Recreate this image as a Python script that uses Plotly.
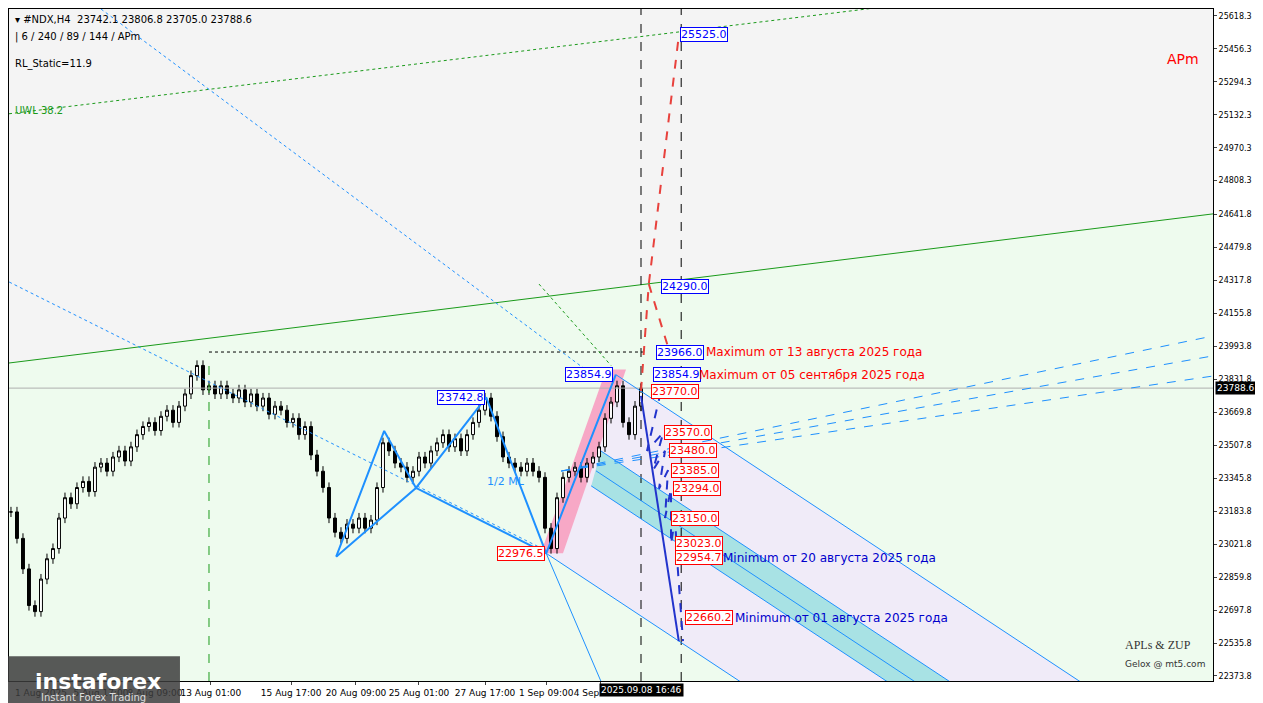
import plotly.graph_objects as go

# closes of H4 bars (bar index 0..105)
closes = [23180, 23050, 22900, 22720, 22690, 22850, 22950, 23000, 23150, 23250,
          23220, 23300, 23330, 23280, 23400, 23420, 23380, 23450, 23480, 23430,
          23500, 23560, 23600, 23620, 23580, 23650, 23680, 23620, 23700, 23760,
          23850, 23900, 23780, 23800, 23760, 23800, 23760, 23740, 23780, 23720,
          23760, 23700, 23740, 23660, 23700, 23680, 23620, 23640, 23560, 23600,
          23460, 23380, 23300, 23150, 23080, 23050, 23120, 23100, 23150, 23100,
          23140, 23300, 23520, 23480, 23420, 23400, 23350, 23380, 23450, 23420,
          23480, 23520, 23560, 23500, 23540, 23480, 23560, 23620, 23680, 23740,
          23650, 23550, 23450, 23420, 23400, 23380, 23420, 23380, 23350, 23100,
          23000, 23250, 23350, 23380, 23400, 23350, 23420, 23450, 23500, 23640,
          23720, 23800, 23620, 23560, 23700, 23788.6]
wick = 25

price_ticks = [25618.3, 25456.3, 25294.3, 25132.3, 24970.3, 24808.3, 24641.8, 24479.8,
               24317.8, 24155.8, 23993.8, 23831.8, 23669.8, 23507.8, 23345.8, 23183.8,
               23021.8, 22859.8, 22697.8, 22535.8, 22373.8]
time_pos = [5, 15, 24, 33.3, 46.7, 57.5, 68, 79, 89.2, 98.3]
time_labels = ["1 Aug 2025", "5 Aug 17:00", "8 Aug 09:00", "13 Aug 01:00", "15 Aug 17:00",
               "20 Aug 09:00", "25 Aug 01:00", "27 Aug 17:00", "1 Sep 09:00", "4 Sep 01:00"]

# zigzag pivots
zz_x = [54.2, 62.2, 67.5, 79.2, 89.2, 100.8]
zz_y = [22960, 23578, 23298, 23742.8, 22976.5, 23854.9]

blue_labels = [(111.5, 25525.0), (108.3, 24290.0), (107.5, 23966.0), (107, 23854.9)]
red_labels = [(106.7, 23770.0), (108.8, 23570.0), (109.7, 23480.0), (110, 23385.0),
              (110.3, 23294.0), (110, 23150.0), (110.7, 23023.0), (110.7, 22954.7),
              (112.3, 22660.2)]
notes = [(115.5, 23966.0, "Maximum от 13 августа 2025 года", "#ff0000"),
         (114.3, 23854.9, "Maximum от 05 сентября 2025 года", "#ff0000"),
         (118.3, 22954.7, "Minimum от 20 августа 2025 года", "#0000cc"),
         (120.3, 22660.2, "Minimum от 01 августа 2025 года", "#0000cc")]

opens = [closes[0]] + closes[:-1]
highs = [max(o, c) + wick for o, c in zip(opens, closes)]
lows = [min(o, c) - wick for o, c in zip(opens, closes)]
bars = list(range(len(closes)))

X0, X1 = -0.33, 200.33
Y0, Y1 = 22349, 25652
slope = -19.5  # fork slope, points per bar

fig = go.Figure()
shapes = []

def seg(xs, ys, color, width=1, dash="solid"):
    fig.add_trace(go.Scatter(x=xs, y=ys, mode="lines", hoverinfo="skip",
                             line=dict(color=color, width=width, dash=dash)))

def area(xs, ys, color):
    path = "M " + " L ".join(f"{x},{y}" for x, y in zip(xs, ys)) + " Z"
    shapes.append(dict(type="path", path=path, xref="x", yref="y", fillcolor=color,
                       line=dict(width=0), layer="below"))

def fork(x0, y0):
    return [x0, X1], [y0, y0 + slope * (X1 - x0)]

# backgrounds: grey above the green line, lavender inside the fork
area([X0, X1, X1, X0], [23912, 24645, Y1, Y1], "#f4f4f4")
ax, ay = fork(100.8, 23854.9)
dx, dy = fork(89.2, 22976.5)
area(ax + dx[::-1], ay + dy[::-1], "#f0ebf8")
tx, ty = fork(98.3, 23480)
bx, by = fork(96.7, 23308)
area(tx + bx[::-1], ty + by[::-1], "#a8e2e4")
area([88.3, 92, 102.5, 99.2], [22976.5, 22976.5, 23880, 23880], "#f7a8c6")

seg([X0, X1], [23912, 24645], "#1a9a1a")
seg([X0, X1], [25137, 25860], "#1a9a1a", dash="dot")
seg([X0, X1], [23788.6, 23788.6], "#b0b0b0")
seg([15, 98.3], [25652, 23824], "#1e90ff", dash="dot")
seg([-0.3, 89.2], [24310, 22990], "#1e90ff", dash="dot")
seg([33, 33], [Y0, 23930], "#1a9a1a", dash="dash")
seg([33, 106], [23966, 23966], "#000000", dash="dot")
seg([105, 105], [Y0, Y1], "#000000", dash="dash")
seg([111.7, 111.7], [Y0, Y1], "#000000", dash="dash")
seg([88, 100], [24300, 23900], "#1a9a1a", dash="dot")

for x0, y0 in [(100.8, 23854.9), (98.3, 23480), (97.5, 23382), (96.7, 23308), (89.2, 22976.5)]:
    fx, fy = fork(x0, y0)
    seg(fx, fy, "#1e90ff", width=1)
for y1 in [24045, 23947, 23848]:
    seg([91.7, X1], [23381, y1], "#1e90ff", dash="dash")
seg([89.2, 98.3], [22976.5, Y0], "#1e90ff")

seg(zz_x, zz_y, "#1e90ff", width=2)
seg([zz_x[0], zz_x[2], zz_x[4]], [zz_y[0], zz_y[2], zz_y[4]], "#1e90ff", width=2)

fig.add_trace(go.Candlestick(x=bars, open=opens, high=highs, low=lows, close=closes,
                             increasing=dict(fillcolor="#ffffff", line=dict(color="#000000", width=1)),
                             decreasing=dict(fillcolor="#000000", line=dict(color="#000000", width=1)),
                             whiskerwidth=0, hoverinfo="skip"))

seg([105, 106.3, 111.3], [23775, 24300, 25520], "#e8413c", width=2, dash="dash")
seg([106.3, 109.7], [24300, 23972], "#e8413c", width=2, dash="dash")
seg([105, 111.3], [23750, 22545], "#2233cc", width=2)
seg([108.3, 106, 108.7, 107, 109, 108, 109.5, 109, 110, 110, 110.7, 111, 112],
    [23770, 23480, 23570, 23385, 23480, 23294, 23385, 23150, 23294, 23023, 23150, 22954.7, 22545],
    "#2233cc", width=2, dash="dash")

ann = []
def box(x, y, text, color, anchor="left"):
    ann.append(dict(x=x, y=y, text=text, showarrow=False, xanchor=anchor, yanchor="middle",
                    font=dict(color=color, size=11), bgcolor="#ffffff", bordercolor=color,
                    borderwidth=1, borderpad=0))

for x, y in blue_labels:
    box(x, y, f"{y:.1f}", "#0000ff")
box(100.3, 23854.9, "23854.9", "#0000ff", "right")
box(79, 23742.8, "23742.8", "#0000ff", "right")
for x, y in red_labels:
    box(x, y, f"{y:.1f}", "#ff0000")
box(89, 22976.5, "22976.5", "#ff0000", "right")
for x, y, t, c in notes:
    ann.append(dict(x=x, y=y, text=t, showarrow=False, xanchor="left", font=dict(color=c, size=12)))
ann.append(dict(x=82.5, y=23332, text="1/2 ML", showarrow=False, font=dict(color="#1e90ff", size=11)))
ann.append(dict(x=200.3, y=23788.6, text="23788.6", showarrow=False, xanchor="left", xshift=2,
                font=dict(color="#ffffff", size=9), bgcolor="#000000"))
ann.append(dict(x=105, y=0, yref="paper", yanchor="top", text="2025.09.08 16:46", showarrow=False,
                font=dict(color="#ffffff", size=9), bgcolor="#000000", yshift=-2))

pt = dict(xref="paper", yref="paper", showarrow=False, xanchor="left")
ann += [dict(x=0.003, y=0.995, yanchor="top", text="▾ #NDX,H4  23742.1 23806.8 23705.0 23788.6", font=dict(size=10, color="#000"), **pt),
        dict(x=0.003, y=0.97, yanchor="top", text="| 6 / 240 / 89 / 144 / APm", font=dict(size=10, color="#000"), **pt),
        dict(x=0.003, y=0.93, yanchor="top", text="RL_Static=11.9", font=dict(size=10, color="#000"), **pt),
        dict(x=0.003, y=0.86, yanchor="top", text="UWL 38.2", font=dict(size=10, color="#1a9a1a"), **pt),
        dict(x=0.96, y=0.94, text="APm", font=dict(size=14, color="#ff0000"), **pt),
        dict(x=0.925, y=0.04, text="APLs & ZUP", font=dict(size=12, color="#333", family="Liberation Serif"), **pt),
        dict(x=0.925, y=0.015, text="Gelox @ mt5.com", font=dict(size=9, color="#333"), **pt)]
ann += [dict(x=0.0, y=0.0, xref="paper", yref="paper", text="<b>instaforex</b>", showarrow=False,
             xanchor="left", yanchor="middle", font=dict(size=22, color="#ffffff"), xshift=24),
        dict(x=0.0, y=-0.024, xref="paper", yref="paper", text="Instant Forex Trading", showarrow=False,
             xanchor="left", yanchor="middle", font=dict(size=10, color="#dddddd"), xshift=30)]

shapes.append(dict(type="rect", xref="paper", yref="paper", x0=-0.01, x1=0.142, y0=-0.04, y1=0.037,
                   fillcolor="rgba(60,60,60,0.85)", line=dict(width=0), layer="above"))

fig.update_layout(
    width=1263, height=703, margin=dict(l=1, r=58, t=1, b=30, autoexpand=False),
    paper_bgcolor="#ffffff", plot_bgcolor="#eefbee", showlegend=False,
    font=dict(family="DejaVu Sans", size=10, color="#000"),
    annotations=ann, shapes=shapes,
    xaxis=dict(range=[X0, X1], tickvals=time_pos, ticktext=time_labels, showgrid=False,
               rangeslider=dict(visible=False), showline=True, linecolor="#000", mirror=True,
               ticks="outside", ticklen=3, zeroline=False, tickfont=dict(size=9), tickangle=0,
               automargin=False),
    yaxis=dict(range=[Y0, Y1], tickvals=price_ticks, ticktext=[f"{v:.1f}" for v in price_ticks],
               side="right", showgrid=False, showline=True, linecolor="#000", mirror=True,
               ticks="outside", ticklen=3, zeroline=False, tickfont=dict(size=8), automargin=False),
)
fig.write_html("out.html")
